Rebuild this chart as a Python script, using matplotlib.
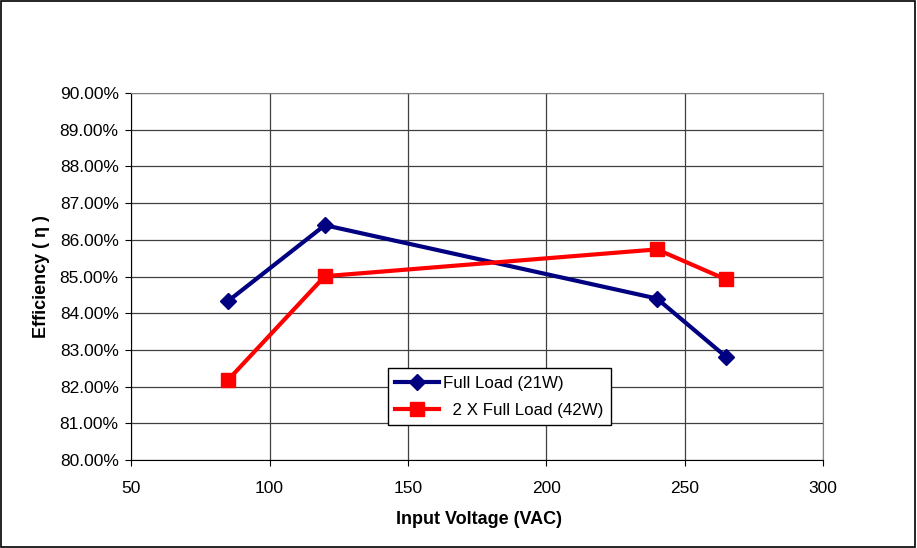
import matplotlib
matplotlib.use('Agg')
import matplotlib.pyplot as plt
from matplotlib.patches import Rectangle
from matplotlib.ticker import FuncFormatter, MultipleLocator

plt.rcParams['font.family'] = ['Liberation Sans', 'DejaVu Sans']

vin = [85, 120, 240, 265]  # vhodna napetost [VAC]
eff_full = [84.33, 86.40, 84.40, 82.81]  # izkoristek pri 21W [%]
eff_double = [82.18, 85.01, 85.74, 84.92]  # izkoristek pri 42W [%]
labels = ['Full Load (21W)', '  2 X Full Load (42W)']

fig = plt.figure(figsize=(9.17, 5.48), dpi=100)
ax = fig.add_axes([0.143, 0.1606, 0.7545, 0.6695])

ax.plot(vin, eff_full, color='#000080', lw=3, marker='D', ms=8,
        label=labels[0], zorder=3)
ax.plot(vin, eff_double, color='#FF0000', lw=3, marker='s', ms=10.5,
        label=labels[1], zorder=3)

ax.set_xlim(50, 300)
ax.set_ylim(80, 90)
ax.xaxis.set_major_locator(MultipleLocator(50))
ax.yaxis.set_major_locator(MultipleLocator(1))
ax.yaxis.set_major_formatter(FuncFormatter(lambda v, p: '%.2f%%' % v))
ax.tick_params(labelsize=12.5, length=4, width=0.8, color='black')
ax.tick_params(axis='x', pad=11)
ax.tick_params(axis='y', pad=5)

ax.grid(True, color='#404040', lw=0.9)
ax.set_axisbelow(True)
for s in ['top', 'right']:
    ax.spines[s].set_color('#808080')
for s in ['left', 'bottom']:
    ax.spines[s].set_color('black')

ax.set_xlabel('Input Voltage (VAC)', fontsize=13, fontweight='bold')
ax.set_ylabel('Efficiency ( η )', fontsize=13, fontweight='bold')
ax.xaxis.set_label_coords(0.503, -0.139)
ax.yaxis.set_label_coords(-0.117, 0.5)

leg = ax.legend(loc='lower left', bbox_to_anchor=(0.371, 0.095),
                borderaxespad=0, fontsize=12.2, fancybox=False,
                edgecolor='black', framealpha=1, handlelength=2.6,
                handletextpad=0.2, labelspacing=0.7, borderpad=0.45)
leg.get_frame().set_linewidth(1)

# okvir okoli cele slike
fig.patches.append(Rectangle((0.001, 0.001), 0.997, 0.997, transform=fig.transFigure,
                             fill=False, edgecolor='black', lw=1.2))

fig.savefig('out.png', dpi=100)
